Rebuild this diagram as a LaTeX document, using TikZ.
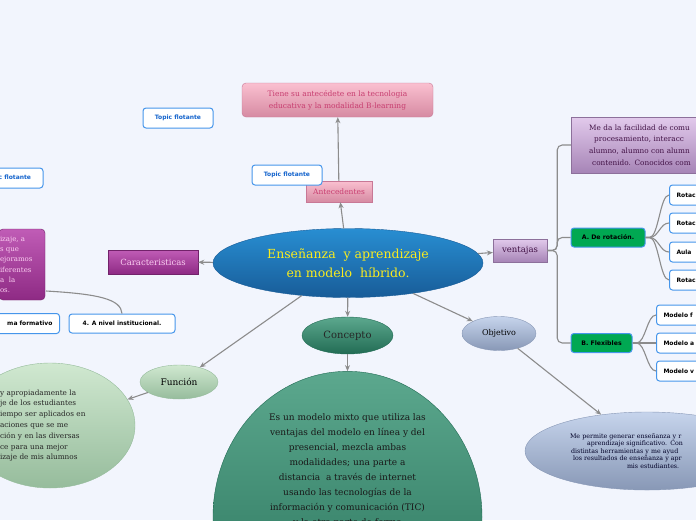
\documentclass[tikz,border=0pt]{standalone}
\usepackage{fontspec}
\setmainfont{DejaVu Serif}
\setsansfont{DejaVu Sans}
\usetikzlibrary{positioning,calc,shapes.geometric,arrows.meta}
\definecolor{PageBg}{RGB}{242,245,253}
\definecolor{LinkGray}{RGB}{140,140,140}
\definecolor{TopicBlue}{RGB}{70,150,235}
\definecolor{TopicText}{RGB}{20,100,205}
\definecolor{LeafGreen}{RGB}{0,168,82}
\definecolor{RoseTop}{RGB}{250,192,208}
\definecolor{RoseBot}{RGB}{214,138,162}
\definecolor{RoseLine}{RGB}{200,120,150}
\definecolor{RoseText}{RGB}{200,62,112}
\definecolor{HubTop}{RGB}{40,142,210}
\definecolor{HubBot}{RGB}{24,92,152}
\definecolor{HubText}{RGB}{250,236,30}
\definecolor{PlumTop}{RGB}{192,92,182}
\definecolor{PlumBot}{RGB}{142,42,132}
\definecolor{PlumText}{RGB}{250,205,240}
\definecolor{LilacTop}{RGB}{226,202,236}
\definecolor{LilacBot}{RGB}{166,132,182}
\definecolor{LilacText}{RGB}{66,18,70}
\definecolor{MintTop}{RGB}{208,232,208}
\definecolor{MintBot}{RGB}{150,188,156}
\definecolor{PineTop}{RGB}{92,168,142}
\definecolor{PineBot}{RGB}{34,108,84}
\definecolor{SlateTop}{RGB}{198,212,236}
\definecolor{SlateBot}{RGB}{136,152,182}
\tikzset{
	link/.style={draw=LinkGray,line width=1.1pt},
	arr/.style={link,-{Stealth[length=6pt,width=5pt]}},
	floating/.style={draw=TopicBlue,fill=white,rounded corners=3pt,line width=1pt,text=TopicText,
		font=\sffamily\bfseries\fontsize{6}{7}\selectfont,minimum width=70pt,minimum height=20pt,inner sep=0pt},
	leaf/.style={draw=TopicBlue,fill=white,rounded corners=3pt,line width=1pt,
		font=\sffamily\bfseries\fontsize{6}{7}\selectfont,minimum height=20pt,inner xsep=7pt,inner ysep=0pt},
	stub/.style={anchor=west,text width=50pt,align=left,minimum width=64pt},
	branch/.style={draw=TopicBlue,fill=LeafGreen,rounded corners=3pt,line width=1pt,
		font=\sffamily\bfseries\fontsize{6.2}{7}\selectfont,minimum height=19pt,inner sep=0pt},
	rosebox/.style={draw=RoseLine,top color=RoseTop,bottom color=RoseBot,text=RoseText,align=center,inner sep=0pt},
	plumbox/.style={draw=PlumBot!80!black,top color=PlumTop,bottom color=PlumBot,text=PlumText,align=center,inner sep=0pt},
	lilacbox/.style={draw=LilacBot!85!black,top color=LilacTop,bottom color=LilacBot,text=LilacText,align=center,inner sep=0pt},
	blob/.style={ellipse,align=center,inner sep=0pt},
}

\begin{document}
\begin{tikzpicture}[x=1pt,y=-1pt]
	\useasboundingbox (0,0) rectangle (696,520);
	\clip (0,0) rectangle (696,520);
	\fill[PageBg] (0,0) rectangle (696,520);
	% central topic
	\node[blob,draw=HubBot,top color=HubTop,bottom color=HubBot,text=HubText,minimum width=270pt,minimum height=69pt,
		font=\fontsize{12.5}{19}\selectfont] (hub) at (348,263) {Enseñanza\ \ y aprendizaje\\en modelo\ \ híbrido.};
	% upper branch
	\node[rosebox,minimum width=191pt,minimum height=34pt,rounded corners=4pt,font=\fontsize{7.5}{12}\selectfont]
		(antecnote) at (337.5,100) {Tiene su antecédete en la tecnologia\\educativa y la modalidad B-learning};
	\node[rosebox,minimum width=66pt,minimum height=21pt,font=\fontsize{7.5}{9}\selectfont] (antec) at (339,191.5) {Antecedentes};
	\node[floating] (floatA) at (178,118) {Topic flotante};
	\node[floating] (floatB) at (287,175) {Topic flotante};
	\node[floating] (floatC) at (8,178) {Topic flotante};
	% left branch
	\node[plumbox,minimum width=90pt,minimum height=24pt,font=\fontsize{8.5}{10}\selectfont] (traits) at (153,262) {Caracteristicas};
	\node[plumbox,rounded corners=4pt,minimum width=46pt,minimum height=71pt,text width=44pt,align=left,
		font=\fontsize{7}{10.2}\selectfont] (traitnote) at (22,264.5) {izaje, a\\s que\\ejoramos\\iferentes\\a\ \ la\\os.};
	\node[leaf,anchor=east,text width=52pt,align=right] (level3) at (60,323.5) {ma formativo};
	\node[leaf,minimum width=106pt,minimum height=19pt] (level4) at (122,323.5) {4. A nivel institucional.};
	\coordinate (traitend) at (46,291);
	\draw[link] (traitend) .. controls (98,294) and (121,299) .. (level4.north);
	% lower branches
	\node[blob,draw=MintBot,top color=MintTop,bottom color=MintBot,minimum width=78pt,minimum height=34pt,
		font=\fontsize{9}{11}\selectfont] (funcion) at (179,382) {Función};
	\node[blob,draw=MintBot,top color=MintTop,bottom color=MintBot,minimum width=170pt,minimum height=125pt,
		text width=100pt,align=left,text=black!85,font=\fontsize{7.3}{10.8}\selectfont] (funcnote) at (50,425.5)
		{y apropiadamente la\\je de los estudiantes\\iempo ser aplicados en\\aciones que se me\\ción y en las diversas\\ce para una mejor\\izaje de mis alumnos};
	\node[blob,draw=PineBot,top color=PineTop,bottom color=PineBot,minimum width=91pt,minimum height=37pt,
		text=black!85,font=\fontsize{10}{12}\selectfont] (concept) at (347.5,335.5) {Concepto};
	\node[blob,draw=PineBot,top color=PineTop,bottom color=PineBot,minimum width=269pt,minimum height=290pt,
		text=black!90,font=\fontsize{9}{15}\selectfont] (conceptbody) at (347.5,517)
		{\parbox[c][206pt][t]{190pt}{\centering Es un modelo mixto que utiliza las\\ventajas del modelo en línea y del\\presencial, mezcla ambas\\modalidades; una parte a\\distancia\ \ a través de internet\\usando las tecnologías de la\\información y comunicación (TIC)\\y la otra parte de forma}};
	\node[blob,draw=SlateBot,top color=SlateTop,bottom color=SlateBot,minimum width=74pt,minimum height=34pt,
		font=\fontsize{8}{10}\selectfont] (objetivo) at (499,333.5) {Objetivo};
	\node[blob,draw=SlateBot,top color=SlateTop,bottom color=SlateBot,minimum width=244pt,minimum height=78pt,
		text width=154pt,align=left,text=black!85!blue,font=\fontsize{6.3}{7.5}\selectfont] (objnote) at (647,451)
		{Me permite generar enseñanza y r\\\hspace*{17pt}aprendizaje significativo. Con\\\hspace*{1pt}distintas herramientas y me ayud\\\hspace*{3pt}los resultados de enseñanza y apr\\\hspace*{57pt}mis estudiantes.};
	% right branch
	\node[lilacbox,minimum width=54pt,minimum height=23pt,font=\fontsize{8.5}{10}\selectfont] (ventajas) at (520,250.5) {ventajas};
	\node[lilacbox,anchor=west,minimum height=56pt,text width=150pt,inner xsep=18pt,align=left,
		font=\fontsize{7.3}{11.7}\selectfont] (comnote) at (571,145)
		{Me da la facilidad de comu\\\hspace*{5pt}procesamiento, interacc\\alumno, alumno con alumn\\\hspace*{3pt}contenido. Conocidos com};
	\node[branch,minimum width=74pt] (rotacion) at (608,237.5) {A. De rotación.};
	\node[branch,minimum width=61pt] (flex) at (601.5,343) {B. Flexibles};
	\foreach \t in {comnote,rotacion,flex}
	\draw[link,rounded corners=5pt] (ventajas.east) -- ++(10,0) |- (\t.west);
	\foreach \n/\y/\t in {rotA/195/Rotac,rotB/223/Rotac,rotC/252/Aula,rotD/280/Rotac} {
		\node[leaf,stub] (\n) at (669,\y) {\t};
		\draw[link] (rotacion.east) -- ++(4,0) .. controls +(9,0) and +(-9,0) .. (\n.west);
	}
	\foreach \n/\y/\t in {modF/315/Modelo f,modA/343/Modelo a,modV/371/Modelo v} {
		\node[leaf,stub] (\n) at (656,\y) {\t};
		\draw[link] (flex.east) -- ++(4,0) .. controls +(9,0) and +(-9,0) .. (\n.west);
	}
	% arrows
	\draw[arr] (hub) -- (antec);
	\draw[arr] (antec) -- (antecnote);
	\draw[arr] (hub) -- (traits);
	\draw[arr] (hub) -- (funcion);
	\draw[arr] (funcion) -- (funcnote);
	\draw[arr] (hub) -- (concept);
	\draw[arr] (concept) -- (conceptbody);
	\draw[arr] (hub) -- (objetivo);
	\draw[arr] (objetivo) -- (objnote);
	\draw[arr] (hub) -- (ventajas);
\end{tikzpicture}
\end{document}
